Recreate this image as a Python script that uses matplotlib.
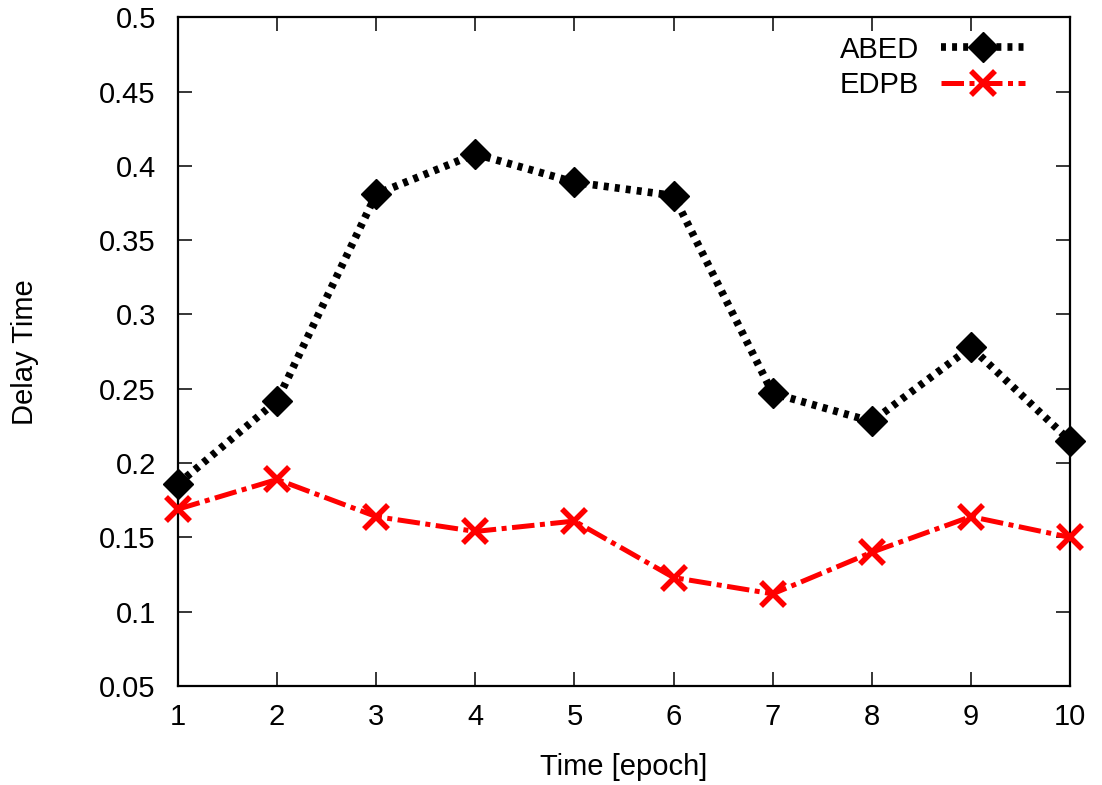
import numpy as np
import matplotlib.pyplot as plt

plt.rcParams['font.family'] = ['Liberation Sans', 'DejaVu Sans']

epochs = [1, 2, 3, 4, 5, 6, 7, 8, 9, 10]
abed = [0.186, 0.242, 0.381, 0.408, 0.389, 0.380, 0.247, 0.228, 0.278, 0.215]
edpb = [0.169, 0.189, 0.164, 0.154, 0.161, 0.123, 0.112, 0.140, 0.164, 0.150]
yticks = [0.05, 0.1, 0.15, 0.2, 0.25, 0.3, 0.35, 0.4, 0.45, 0.5]
ytick_labels = ['0.05', '0.1', '0.15', '0.2', '0.25', '0.3', '0.35', '0.4', '0.45', '0.5']

fig = plt.figure(figsize=(11.02, 7.85), dpi=100)
ax = fig.add_axes([0.1615, 0.1261, 0.8095, 0.8519])

ax.plot(epochs, abed, color='black', linestyle=(0, (0.65, 0.8)), linewidth=5.5,
        marker='D', markersize=15.5, label='ABED', clip_on=False, zorder=3)
ax.plot(epochs, edpb, color='red', linestyle=(0, (4.5, 1.1, 1, 1.1)), linewidth=3.6,
        marker='x', markersize=17, markeredgewidth=4, label='EDPB',
        clip_on=False, zorder=3)

ax.set_xlim(1, 10)
ax.set_ylim(0.05, 0.5)
ax.set_xticks(epochs)
ax.set_yticks(yticks)
ax.set_yticklabels(ytick_labels)
ax.tick_params(direction='in', top=True, right=True, length=10, width=1.1,
               labelsize=21)
ax.tick_params(axis='x', pad=12)
ax.tick_params(axis='y', pad=16)
for s in ax.spines.values():
    s.set_linewidth(1.6)

ax.set_xlabel('Time [epoch]', fontsize=21, labelpad=16)
ax.set_ylabel('Delay Time', fontsize=21, labelpad=43)

ax.legend(loc='upper right', bbox_to_anchor=(0.963, 0.99), borderaxespad=0,
          frameon=False, markerfirst=False, fontsize=21,
          handlelength=2.9, labelspacing=0.25, handletextpad=0.75)

fig.savefig('out.png', dpi=100)
